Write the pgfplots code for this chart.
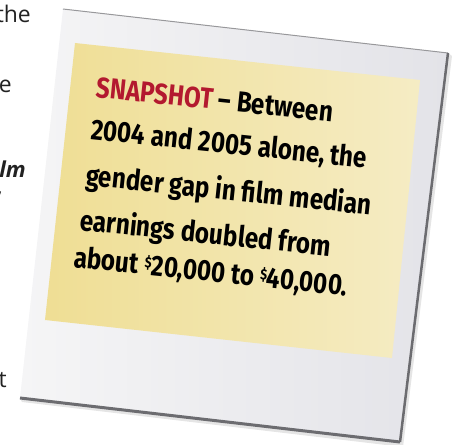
\documentclass[border=0pt]{standalone}
\usepackage{pgfplots}
\pgfplotsset{compat=1.18}
\usepackage{fontspec}
\setmainfont{Open Sans}
\newfontfamily\hand[FakeStretch=0.84]{Fira Sans}
\definecolor{snapred}{HTML}{B3192F}
\definecolor{bodygray}{HTML}{222222}
\definecolor{framelight}{HTML}{F5F5F6}
\definecolor{framedark}{HTML}{E3E3E8}
\definecolor{edgegray}{HTML}{6C6C70}
\definecolor{noteleft}{HTML}{EFDE94}
\definecolor{noteright}{HTML}{F5ECC4}

\begin{document}
\begin{tikzpicture}
\clip (0,0) rectangle (458bp,445bp);
\begin{axis}[
    at={(0,0)}, anchor=south west,
    scale only axis, width=458bp, height=445bp,
    xmin=0, xmax=458, ymin=0, ymax=445,
    y dir=reverse, axis lines=none, clip=false
]
% soft shadow behind the print
\addplot[draw=none, fill=black, fill opacity=0.10]
    coordinates {(22,402) (403,447) (452,56) (448,53) (400,442) (20,398)} -- cycle;
% the print
\addplot[draw=none, left color=framelight, right color=framedark]
    coordinates {(63,9) (448,53) (400,442) (20,398)} -- cycle;
% edges
\addplot[edgegray!70, line width=1bp] coordinates {(63,9) (448,53)};
\addplot[edgegray, line width=2.5bp] coordinates {(448,53) (400,442)};
\addplot[edgegray, line width=3bp] coordinates {(20,398) (400,442)};
% the note
\addplot[draw=none, left color=noteleft, right color=noteright]
    coordinates {(75,43) (420,80) (392,358) (45,320)} -- cycle;

% handwritten text
\tikzset{hw/.style={anchor=base west, rotate=-6, inner sep=0pt, text=black,
    font=\hand\bfseries\fontsize{29}{29}\selectfont}}
\node[hw] at (axis cs:95,97) {\textcolor{snapred}{SNAPSHOT} – Between};
\node[hw] at (axis cs:90,139) {2004 and 2005 alone, the};
\node[hw] at (axis cs:85,185) {gender gap in film median};
\node[hw] at (axis cs:79,230) {earnings doubled from};
\node[hw] at (axis cs:73,267) {about \raisebox{0.45ex}{\fontsize{15}{15}\selectfont\$}20,000 to \raisebox{0.45ex}{\fontsize{15}{15}\selectfont\$}40,000.};

% cut-off body text on the left
\tikzset{bt/.style={anchor=base east, inner sep=0pt, text=bodygray,
    font=\fontsize{23}{23}\selectfont}}
\node[bt] at (axis cs:31,23) {the};
\node[bt] at (axis cs:12,92) {the};
\node[bt, font=\fontsize{22}{22}\selectfont\bfseries\itshape] at (axis cs:26,177) {film};
\node[bt] at (axis cs:3,194) {word,};
\node[bt] at (axis cs:7,387) {but};
\end{axis}
\end{tikzpicture}
\end{document}
